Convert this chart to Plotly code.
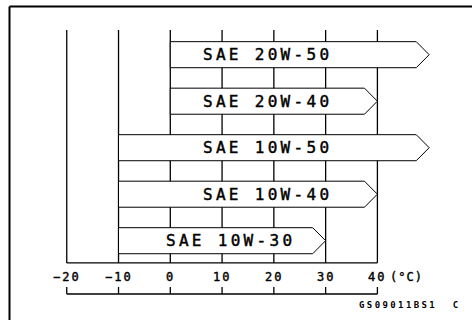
import plotly.graph_objects as go

# Oil grades and their usable ambient temperature ranges (°C)
grades = ["SAE 20W-50", "SAE 20W-40", "SAE 10W-50", "SAE 10W-40", "SAE 10W-30"]
temp_low = [0, 0, -10, -10, -10]
temp_high = [50, 40, 50, 40, 30]
label_start = [6.2, 6.2, 6.2, 6.2, -1.1]

# Temperature scale
tick_values = [-20, -10, 0, 10, 20, 30, 40]
tick_labels = ["−20", "−10", "0", "10", "20", "30", "40"]
unit_label = "(°C)"
code_label = "GS09011BS1  C"

# Layout constants (row units on y, °C on x)
HALF_H = 0.28        # half thickness of each range bar
HEAD = 2.5           # arrow head length in °C
GRID_TOP, GRID_BOTTOM = -0.531, 4.477
AXIS_Y, TICK_TOP, TICK_LABEL_Y = 5.146, 4.996, 4.783
FONT = "DejaVu Sans Mono"


def styled(text, spacing, stroke):
    # spaced-out, slightly thickened lettering
    return (f'<span style="letter-spacing:{spacing}px;stroke:black;'
            f'stroke-width:{stroke}px">{text}</span>')


fig = go.Figure()

# Vertical guide lines and the bottom edge of the chart box
gx, gy = [], []
for t in tick_values:
    gx += [t, t, None]
    gy += [GRID_TOP, GRID_BOTTOM, None]
gx += [tick_values[0], tick_values[-1]]
gy += [GRID_BOTTOM, GRID_BOTTOM]
fig.add_trace(go.Scatter(x=gx, y=gy, mode="lines",
                         line=dict(color="black", width=1.3),
                         hoverinfo="skip", showlegend=False))

# Temperature scale line with upward ticks
ax_x = [tick_values[0], tick_values[-1], None]
ax_y = [AXIS_Y, AXIS_Y, None]
for t in tick_values:
    ax_x += [t, t, None]
    ax_y += [AXIS_Y, TICK_TOP, None]
fig.add_trace(go.Scatter(x=ax_x, y=ax_y, mode="lines",
                         line=dict(color="black", width=1.3),
                         hoverinfo="skip", showlegend=False))

# Arrow-shaped range bars
for row, (name, lo, hi) in enumerate(zip(grades, temp_low, temp_high)):
    px = [lo, hi - HEAD, hi, hi - HEAD, lo, lo]
    py = [row - HALF_H, row - HALF_H, row, row + HALF_H, row + HALF_H, row - HALF_H]
    fig.add_trace(go.Scatter(x=px, y=py, mode="lines", fill="toself",
                             fillcolor="white",
                             line=dict(color="black", width=1),
                             name=name, hoverinfo="name", showlegend=False))
    fig.add_annotation(x=label_start[row], y=row, xanchor="left", yanchor="middle",
                       text=styled(name, 3.3, 0.45),
                       showarrow=False, borderpad=0,
                       font=dict(family=FONT, size=16, color="black"))

# Tick labels
for t, lab in zip(tick_values, tick_labels):
    fig.add_annotation(x=t, y=TICK_LABEL_Y, xanchor="center", yanchor="middle",
                       text=styled(lab, 2, 0.4),
                       showarrow=False, borderpad=0,
                       font=dict(family=FONT, size=12, color="black"))
fig.add_annotation(x=42.3, y=TICK_LABEL_Y, xanchor="left", yanchor="middle",
                   text=styled(unit_label, 1, 0.4),
                   showarrow=False, borderpad=0,
                   font=dict(family=FONT, size=12, color="black"))

# Figure code in the lower right corner
fig.add_annotation(x=462 / 472, y=1 - 305 / 320, xref="paper", yref="paper",
                   xanchor="right", yanchor="middle",
                   text=f'<b><span style="letter-spacing:2.4px">{code_label}</span></b>',
                   showarrow=False, borderpad=0,
                   font=dict(family=FONT, size=9, color="black"))

# Outer frame: top and left edges
fig.add_shape(type="line", xref="paper", yref="paper",
              x0=9.5 / 472, x1=1, y0=1 - 6.5 / 320, y1=1 - 6.5 / 320,
              line=dict(color="black", width=2))
fig.add_shape(type="line", xref="paper", yref="paper",
              x0=9.5 / 472, x1=9.5 / 472, y0=0, y1=1 - 6.5 / 320,
              line=dict(color="black", width=2))

fig.update_layout(
    width=472, height=320,
    margin=dict(l=0, r=0, t=0, b=0),
    paper_bgcolor="white", plot_bgcolor="white",
    xaxis=dict(range=[-32.89, 58.27], visible=False, fixedrange=True),
    yaxis=dict(range=[5.705, -1.176], visible=False, fixedrange=True),
)

fig.write_html("out.html")
